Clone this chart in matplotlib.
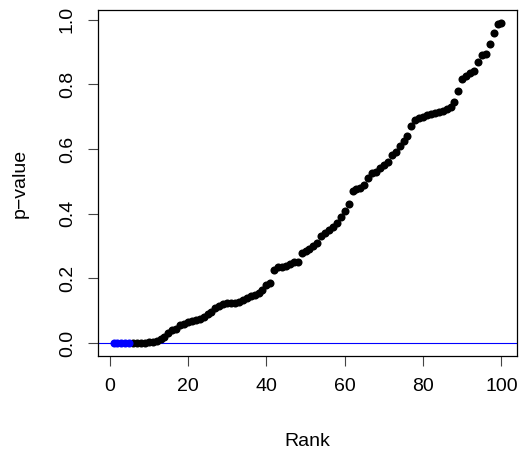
import matplotlib
matplotlib.use("Agg")
import matplotlib.pyplot as plt
import numpy as np

pvals = [0.0, 0.0, 0.0, 0.0, 0.0, 0.0005, 0.001, 0.0015, 0.002, 0.003,
         0.005, 0.008, 0.013, 0.02, 0.03, 0.04, 0.045, 0.055, 0.06, 0.065,
         0.068, 0.072, 0.076, 0.08, 0.09, 0.095, 0.108, 0.115, 0.12, 0.123,
         0.125, 0.125, 0.127, 0.132, 0.14, 0.145, 0.15, 0.155, 0.165, 0.18,
         0.185, 0.225, 0.235, 0.236, 0.24, 0.246, 0.25, 0.252, 0.28, 0.285,
         0.29, 0.30, 0.31, 0.33, 0.34, 0.35, 0.36, 0.37, 0.39, 0.41,
         0.43, 0.47, 0.475, 0.48, 0.49, 0.51, 0.525, 0.53, 0.54, 0.55,
         0.56, 0.58, 0.59, 0.61, 0.625, 0.64, 0.67, 0.69, 0.695, 0.70,
         0.705, 0.708, 0.711, 0.714, 0.718, 0.724, 0.73, 0.745, 0.78, 0.815,
         0.825, 0.835, 0.84, 0.87, 0.89, 0.895, 0.925, 0.96, 0.985, 0.99]
n_sig = 5
ranks = np.arange(1, len(pvals) + 1)
xticks = [0, 20, 40, 60, 80, 100]
yticks = [0.0, 0.2, 0.4, 0.6, 0.8, 1.0]

plt.rcParams['font.family'] = ['Liberation Sans', 'DejaVu Sans']
fig = plt.figure(figsize=(5.2, 4.51), dpi=100)
ax = fig.add_axes([98/520, 1-356/451, (517-98)/520, (356-10)/451])

p = np.array(pvals)
ax.axhline(0, color='#0000ff', lw=0.8, zorder=1)
ax.plot(ranks[n_sig:], p[n_sig:], 'o', color='black', ms=5.8, mew=0, zorder=2)
ax.plot(ranks[:n_sig], p[:n_sig], 'o', color='#0000ff', ms=5.8, mew=0, zorder=3)

ax.set_xlim(1 - 0.04*99, 100 + 0.04*99)
ax.set_ylim(-0.04*0.99, 0.99 + 0.04*0.99)
ax.set_xticks(xticks)
ax.set_xticklabels([str(v) for v in xticks])
ax.set_yticks(yticks)
ax.set_yticklabels([f"{v:.1f}" for v in yticks], rotation=90, va='center')
ax.tick_params(direction='out', length=7, width=0.8, labelsize=14, pad=9, color='#444444')
for s in ax.spines.values():
    s.set_linewidth(0.9)
ax.set_xlabel("Rank", fontsize=14, labelpad=27)
ax.set_ylabel("p\u2212value", fontsize=14, labelpad=22)

fig.savefig("out.png", dpi=100)
